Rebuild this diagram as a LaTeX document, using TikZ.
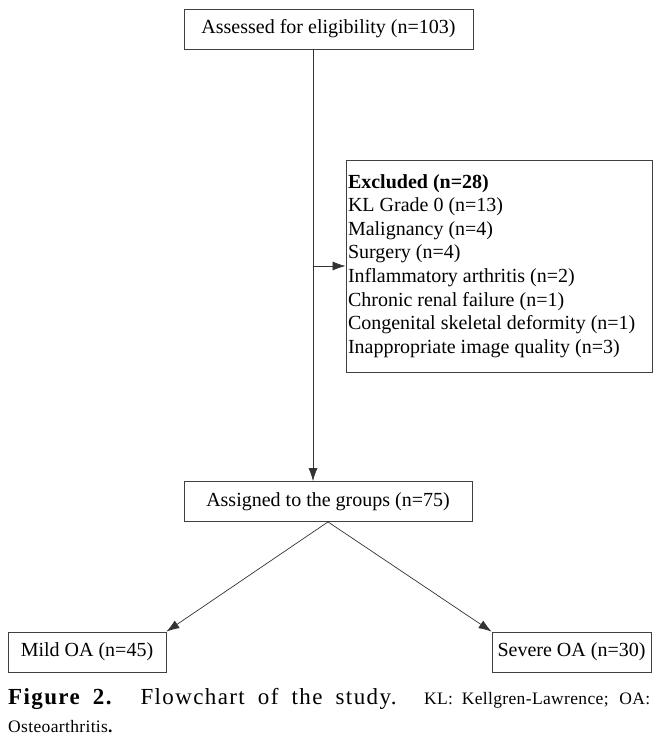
\documentclass[tikz,border=0pt]{standalone}
\usepackage{fontspec}
\setmainfont{Liberation Serif}
\usetikzlibrary{arrows.meta}
\begin{document}
\begin{tikzpicture}[x=1pt,y=-1pt,
  box/.style={draw=black!75, line width=0.8pt, inner sep=0pt, font=\fontsize{20}{22}\selectfont},
  conn/.style={draw=black!80, line width=0.7pt, -{Latex[length=13pt,width=9pt]}}]
\useasboundingbox (0,0) rectangle (658,752);
\node[box, minimum width=289pt, minimum height=40pt] (top) at (328.5,29) {Assessed for eligibility (n=103)};
\node[box, minimum width=306pt, minimum height=212pt, inner xsep=2pt, text width=302pt, align=flush left,
  font=\fontsize{20}{23.6}\selectfont] (excl) at (499,266)
  {\textbf{Excluded (n=28)}\\KL Grade 0 (n=13)\\Malignancy (n=4)\\Surgery (n=4)\\Inflammatory arthritis (n=2)\\Chronic renal failure (n=1)\\Congenital skeletal deformity (n=1)\\Inappropriate image quality (n=3)};
\node[box, minimum width=288pt, minimum height=40pt] (assign) at (328,501.5) {Assigned to the groups (n=75)};
\node[box, minimum width=158pt, minimum height=40pt] (mild) at (87,652) {Mild OA (n=45)};
\node[box, minimum width=159pt, minimum height=40pt] (severe) at (571.5,652) {Severe OA (n=30)};
\coordinate (v) at (313,0);
\draw[conn] (top.south -| v) -- (assign.north -| v);
\draw[conn] (v |- excl.west) -- (excl.west);
\draw[conn] (assign.south) -- (mild.north east);
\draw[conn] (assign.south) -- (severe.north west);
\node[anchor=north west, inner sep=0pt, text width=642pt, align=justify,
  font=\fontsize{23}{28}\selectfont] (cap) at (8,688)
  {\addfontfeatures{LetterSpace=6}\textbf{Figure 2.} Flowchart of the study. {\fontsize{17.5}{28}\selectfont\addfontfeatures{LetterSpace=2}KL: Kellgren-Lawrence; OA:\linebreak Osteoarthritis\textbf{.}}};
\end{tikzpicture}
\end{document}
